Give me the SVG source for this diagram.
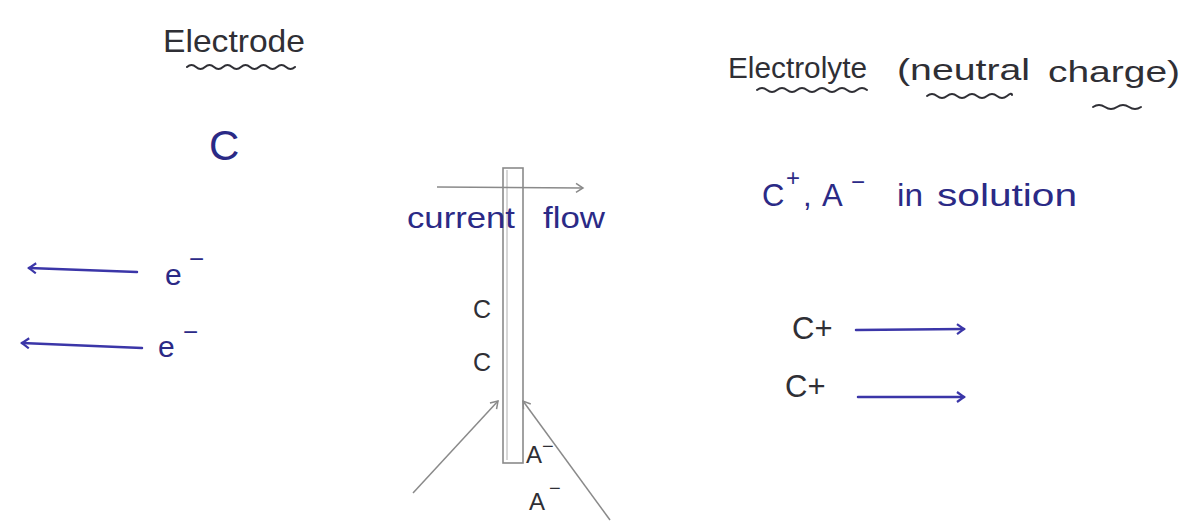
<svg xmlns="http://www.w3.org/2000/svg" width="1191" height="529" viewBox="0 0 1191 529">
<style>
.ink{fill:#2f2f35;font-family:"Liberation Sans",Arial,sans-serif}
.blue{fill:#2b2a86;font-family:"Liberation Sans",Arial,sans-serif}
.wave{fill:none;stroke:#2f2f35;stroke-width:2;stroke-linecap:round}
.barr{fill:none;stroke:#3b36a8;stroke-width:2.5;stroke-linecap:round}
.garr{fill:none;stroke:#8a8a8a;stroke-width:1.5}
.rod{fill:none;stroke:#8a8a8a;stroke-width:1.6}
</style>
<defs>
<marker id="ab" markerWidth="12" markerHeight="12" refX="9" refY="6" orient="auto" markerUnits="userSpaceOnUse">
<path d="M2,1 L9,6 L2,11" fill="none" stroke="#3b36a8" stroke-width="2.2"/>
</marker>
<marker id="ag" markerWidth="12" markerHeight="12" refX="9" refY="6" orient="auto" markerUnits="userSpaceOnUse">
<path d="M2,1.5 L9,6 L2,10.5" fill="none" stroke="#8a8a8a" stroke-width="1.5"/>
</marker>
</defs>
<rect width="1191" height="529" fill="#ffffff"/>

<g id="electrode-title">
<text class="ink" x="163" y="52" font-size="32" textLength="142" lengthAdjust="spacingAndGlyphs">Electrode</text>
<path class="wave" d="M187,67 q4.5,-4 9,0 t9,0 t9,0 t9,0 t9,0 t9,0 t9,0 t9,0 t9,0 t9,0 t9,0 t9,0"/>
</g>

<g id="electrode-c">
<text class="blue" x="209" y="160" font-size="42">C</text>
</g>

<g id="electron-1">
<text class="blue" x="165" y="285" font-size="30">e</text>
<text class="blue" x="189" y="268" font-size="26">−</text>
</g>
<g id="electron-2">
<text class="blue" x="158" y="357" font-size="30">e</text>
<text class="blue" x="183" y="341" font-size="26">−</text>
</g>

<g id="rod">
<rect class="rod" x="503" y="168" width="20" height="295"/>
<line x1="507" y1="170" x2="507" y2="460" stroke="#b0b0b0" stroke-width="1"/>
</g>

<g id="current-flow-label">
<text class="blue" x="407" y="228" font-size="30" textLength="108" lengthAdjust="spacingAndGlyphs">current</text>
<text class="blue" x="543" y="228" font-size="30" textLength="62" lengthAdjust="spacingAndGlyphs">flow</text>
</g>

<g id="rod-c-1"><text class="ink" x="473" y="318" font-size="25">C</text></g>
<g id="rod-c-2"><text class="ink" x="473" y="371" font-size="25">C</text></g>

<g id="anion-1">
<text class="ink" x="526" y="463" font-size="24">A</text>
<text class="ink" x="542" y="453" font-size="20">−</text>
</g>
<g id="anion-2">
<text class="ink" x="529" y="510" font-size="24">A</text>
<text class="ink" x="549" y="495" font-size="20">−</text>
</g>

<g id="electrolyte-title">
<text class="ink" x="728" y="78" font-size="30" textLength="139" lengthAdjust="spacingAndGlyphs">Electrolyte</text>
<text class="ink" x="897" y="80" font-size="30" textLength="133" lengthAdjust="spacingAndGlyphs">(neutral</text>
<text class="ink" x="1048" y="82" font-size="30" textLength="132" lengthAdjust="spacingAndGlyphs">charge)</text>
<path class="wave" d="M757,90 q5,-4 10,0 t10,0 t10,0 t10,0 t10,0 t10,0 t10,0 t10,0 t10,0 t10,0 t10,0"/>
<path class="wave" d="M927,96 q5,-4 10,0 t10,0 t10,0 t10,0 t10,0 t10,0 t10,0 t10,0 t5,-1"/>
<path class="wave" d="M1093,107 q6,-4 12,0 t12,0 t12,0 t12,0"/>
</g>

<g id="solution-ions">
<text class="blue" x="762" y="206" font-size="31">C</text>
<text class="blue" x="786" y="186" font-size="24">+</text>
<text class="blue" x="803" y="206" font-size="31">,</text>
<text class="blue" x="822" y="206" font-size="31">A</text>
<text class="blue" x="851" y="190" font-size="24">−</text>
<text class="blue" x="897" y="206" font-size="31" textLength="26" lengthAdjust="spacingAndGlyphs">in</text>
<text class="blue" x="937" y="206" font-size="31" textLength="140" lengthAdjust="spacingAndGlyphs">solution</text>
</g>

<g id="cation-1"><text class="ink" x="792" y="339" font-size="31">C+</text></g>
<g id="cation-2"><text class="ink" x="785" y="397" font-size="31">C+</text></g>

<g id="connectors">
<line class="barr" x1="137" y1="272" x2="29" y2="268" marker-end="url(#ab)"/>
<line class="barr" x1="142" y1="348" x2="22" y2="343" marker-end="url(#ab)"/>
<line class="barr" x1="856" y1="330" x2="964" y2="329" marker-end="url(#ab)"/>
<line class="barr" x1="858" y1="397" x2="964" y2="397" marker-end="url(#ab)"/>
<line class="garr" x1="437" y1="187" x2="583" y2="188" marker-end="url(#ag)"/>
<line class="garr" x1="413" y1="493" x2="498" y2="401" marker-end="url(#ag)"/>
<line class="garr" x1="610" y1="520" x2="523" y2="401" marker-end="url(#ag)"/>
</g>
</svg>
